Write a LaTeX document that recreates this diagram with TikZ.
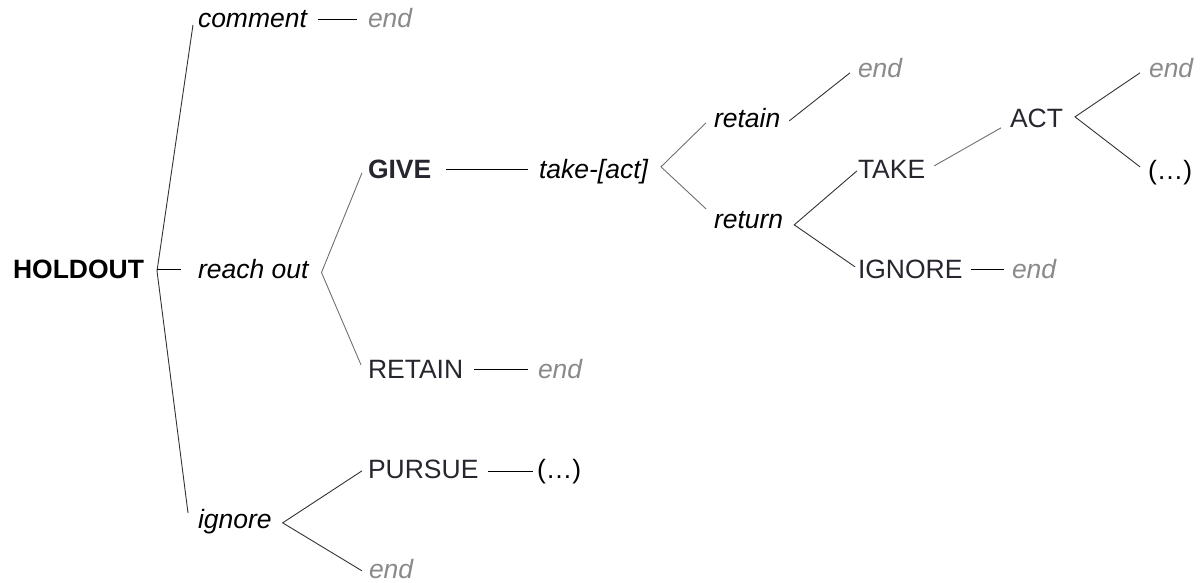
\documentclass[tikz,border=0pt]{standalone}
\usepackage{fontspec}
\setmainfont{Liberation Sans}
\definecolor{ink}{HTML}{26262F}
\definecolor{endgray}{HTML}{8A8A8A}
\definecolor{lndark}{HTML}{333333}
\definecolor{lnlight}{HTML}{707070}
\newcommand{\labelsize}{\fontsize{26.5}{32}\selectfont}
\tikzset{
  lbl/.style={inner sep=0pt, outer sep=0pt, anchor=base west,
    text height=19pt, text depth=2pt, font=\labelsize},
  move/.style={lbl, font=\labelsize\itshape, text=black},
  state/.style={lbl, text=ink},
  strong/.style={lbl, font=\labelsize\bfseries, text=ink},
  root/.style={lbl, font=\labelsize\bfseries, text=black},
  stop/.style={lbl, font=\labelsize\itshape, text=endgray},
  more/.style={lbl, text=black},
  ln/.style={line width=0.9pt, draw=lndark, line join=miter},
  lnl/.style={line width=0.9pt, draw=lnlight, line join=miter},
  lnk/.style={line width=0.9pt, draw=black},
}
\begin{document}
\begin{tikzpicture}[x=1pt, y=-1pt]
\useasboundingbox (0,0) rectangle (1204,583);

% labels, placed by their baselines
\node[root]   (hold)    at (13,278)   {HOLDOUT};
\node[move]   (comment) at (198,28)   {comment};
\node[stop]   (endA)    at (368,28)   {end};
\node[move]   (reach)   at (198,278)  {reach out};
\node[strong] (give)    at (368,178)  {GIVE};
\node[move]   (take)    at (539,178)  {take-[act]};
\node[move]   (retain)  at (714,128)  {retain};
\node[move]   (return)  at (714,228)  {return};
\node[stop]   (endB)    at (858,78)   {end};
\node[state]  (TAKE)    at (858,178)  {TAKE};
\node[state]  (IGNORE)  at (858,278)  {IGNORE};
\node[stop]   (endC)    at (1012,278) {end};
\node[state]  (ACT)     at (1010,128) {ACT};
\node[stop]   (endD)    at (1149,78)  {end};
\node[more]   (dotsA)   at (1148,179) {(…)};
\node[state]  (RETAIN)  at (368,378)  {RETAIN};
\node[stop]   (endE)    at (538,378)  {end};
\node[state]  (PURSUE)  at (368,478)  {PURSUE};
\node[more]   (dotsB)   at (537,478)  {(…)};
\node[move]   (ignore)  at (198,528)  {ignore};
\node[stop]   (endF)    at (369,578)  {end};

% HOLDOUT branches
\coordinate (vHold) at ([shift={(13,1.5)}]hold.east);
\draw[ln] ([shift={(-5,5.35)}]comment.west) -- (vHold) -- ([shift={(-10,-6.65)}]ignore.west);
\draw[lnk] ([xshift=13]hold.east) -- ([xshift=-17]reach.west);
\draw[lnk] ([xshift=11]comment.east) -- ([xshift=-11]endA.west);

% reach out
\coordinate (vReach) at ([shift={(13,3)}]reach.east);
\draw[lnl] ([shift={(-6,3.35)}]give.west) -- (vReach) -- ([shift={(-7,-4.65)}]RETAIN.west);
\draw[lnk] ([xshift=15]give.east) -- ([xshift=-11]take.west);
\draw[lnk] ([xshift=11]RETAIN.east) -- ([xshift=-10]endE.west);

% take-[act]
\coordinate (vTake) at ([shift={(13,-2.65)}]take.east);
\draw[lnl] ([shift={(-8,3.35)}]retain.west) -- (vTake) -- ([shift={(-8,-10.65)}]return.west);
\draw[ln] ([shift={(9,1.35)}]retain.east) -- ([shift={(-8,3.35)}]endB.west);

% return
\coordinate (vReturn) at ([shift={(11,5.35)}]return.east);
\draw[ln] ([shift={(-1,1.35)}]TAKE.west) -- (vReturn) -- ([shift={(-3,-2.65)}]IGNORE.west);
\draw[lnk] ([xshift=8]IGNORE.east) -- ([xshift=-8]endC.west);
\draw[lnl] ([shift={(9,-3.65)}]TAKE.east) -- ([shift={(-9,8.35)}]ACT.west);

% ACT
\coordinate (vAct) at ([shift={(12,-2.65)}]ACT.east);
\draw[ln] ([shift={(-9,3.35)}]endD.west) -- (vAct) -- ([shift={(-8,-3.65)}]dotsA.west);

% ignore
\coordinate (vIgnore) at ([shift={(11,3.35)}]ignore.east);
\draw[ln] ([shift={(-6,1.35)}]PURSUE.west) -- (vIgnore) -- ([shift={(-7,1.35)}]endF.west);
\draw[lnk] ([shift={(10,2)}]PURSUE.east) -- ([shift={(-4,2)}]dotsB.west);
\end{tikzpicture}
\end{document}
